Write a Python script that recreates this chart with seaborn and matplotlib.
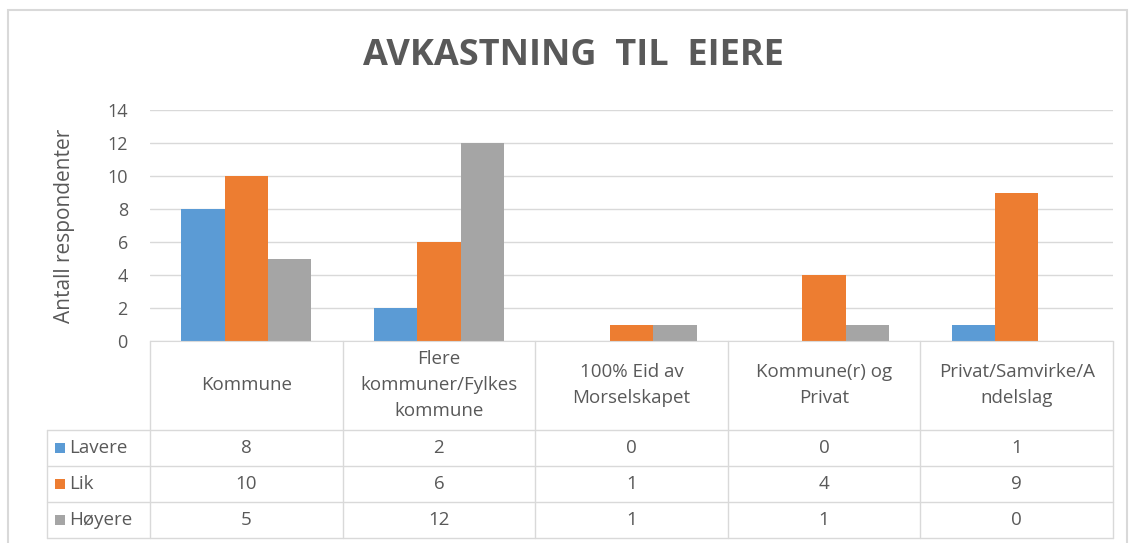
import pandas as pd
import numpy as np
import matplotlib.pyplot as plt
import matplotlib.transforms as mtransforms
from matplotlib.lines import Line2D
from matplotlib.patches import Rectangle
import seaborn as sns

# data
kategorier = ["Kommune", "Flere\nkommuner/Fylkes\nkommune", "100% Eid av\nMorselskapet",
              "Kommune(r) og\nPrivat", "Privat/Samvirke/A\nndelslag"]
serier = ["Lavere", "Lik", "Høyere"]
lavere = [8, 2, 0, 0, 1]
lik = [10, 6, 1, 4, 9]
hoyere = [5, 12, 1, 1, 0]
y_ticks = [0, 2, 4, 6, 8, 10, 12, 14]

farger = ["#5B9BD5", "#ED7D31", "#A5A5A5"]
tekst = "#595959"
linje = "#D9D9D9"

df = pd.DataFrame({
    "kategori": kategorier * 3,
    "serie": [s for s in serier for _ in kategorier],
    "antall": lavere + lik + hoyere,
})

sns.set_style("white")
plt.rcParams["font.family"] = ["Open Sans", "DejaVu Sans"]

W, H = 1129, 543
fig = plt.figure(figsize=(W / 100, H / 100), dpi=100)
fig.patch.set_facecolor("white")


def fx(px):
    return px / W


def fy(py):
    return 1 - py / H


# chart border
fig.add_artist(Rectangle((fx(8), fy(545)), fx(1127) - fx(8), fy(10) - fy(545),
                         transform=fig.transFigure, fill=False, edgecolor=linje, lw=1.5))

ax = fig.add_axes([fx(150), fy(341), fx(1113) - fx(150), fy(110) - fy(341)])
sns.barplot(data=df, x="kategori", y="antall", hue="serie", order=kategorier,
            hue_order=serier, palette=farger, width=0.675, saturation=1,
            linewidth=0, legend=False, ax=ax)

ax.set_ylim(0, 14)
ax.set_xlim(-0.5, len(kategorier) - 0.5)
ax.set_yticks(y_ticks)
ax.set_xticks([])
ax.set_xlabel("")
ax.yaxis.grid(True, color=linje, lw=1)
ax.set_axisbelow(True)
ax.tick_params(axis="y", length=0, pad=16, labelsize=13, labelcolor=tekst)
for s in ["top", "right", "left"]:
    ax.spines[s].set_visible(False)
ax.spines["bottom"].set_color(linje)
ax.set_ylabel("Antall respondenter", fontsize=15, color=tekst)
ax.yaxis.set_label_coords(-0.078, 0.5)

fig.text(fx(573), fy(56), "AVKASTNING  TIL  EIERE",
         ha="center", va="center", fontsize=26, fontweight="bold", color=tekst)

# data table under the chart
bt = mtransforms.blended_transform_factory(ax.transData, fig.transFigure)
n = len(kategorier)
rad_y = [430, 466, 502, 538]
for y in rad_y:
    fig.add_artist(Line2D([fx(47), fx(1113)], [fy(y), fy(y)], transform=fig.transFigure,
                          color=linje, lw=1))
for j in range(n + 1):
    fig.add_artist(Line2D([j - 0.5, j - 0.5], [fy(341), fy(538)], transform=bt,
                          color=linje, lw=1))
fig.add_artist(Line2D([fx(47), fx(47)], [fy(430), fy(538)], transform=fig.transFigure,
                      color=linje, lw=1))

for j, k in enumerate(kategorier):
    fig.text(j, fy(385), k, transform=bt, ha="center", va="center", fontsize=13.5,
             color=tekst, linespacing=1.55)

verdier = [lavere, lik, hoyere]
for i, (s, vals) in enumerate(zip(serier, verdier)):
    yc = fy((rad_y[i] + rad_y[i + 1]) / 2)
    fig.add_artist(Rectangle((fx(55), yc - 5 / H), 10 / W, 10 / H, transform=fig.transFigure,
                             color=farger[i], lw=0))
    fig.text(fx(69), yc, s, ha="left", va="center", fontsize=13.5, color=tekst)
    for j, v in enumerate(vals):
        fig.text(j, yc, str(v), transform=bt, ha="center", va="center", fontsize=13.5,
                 color=tekst)

fig.savefig("out.png", dpi=100)
